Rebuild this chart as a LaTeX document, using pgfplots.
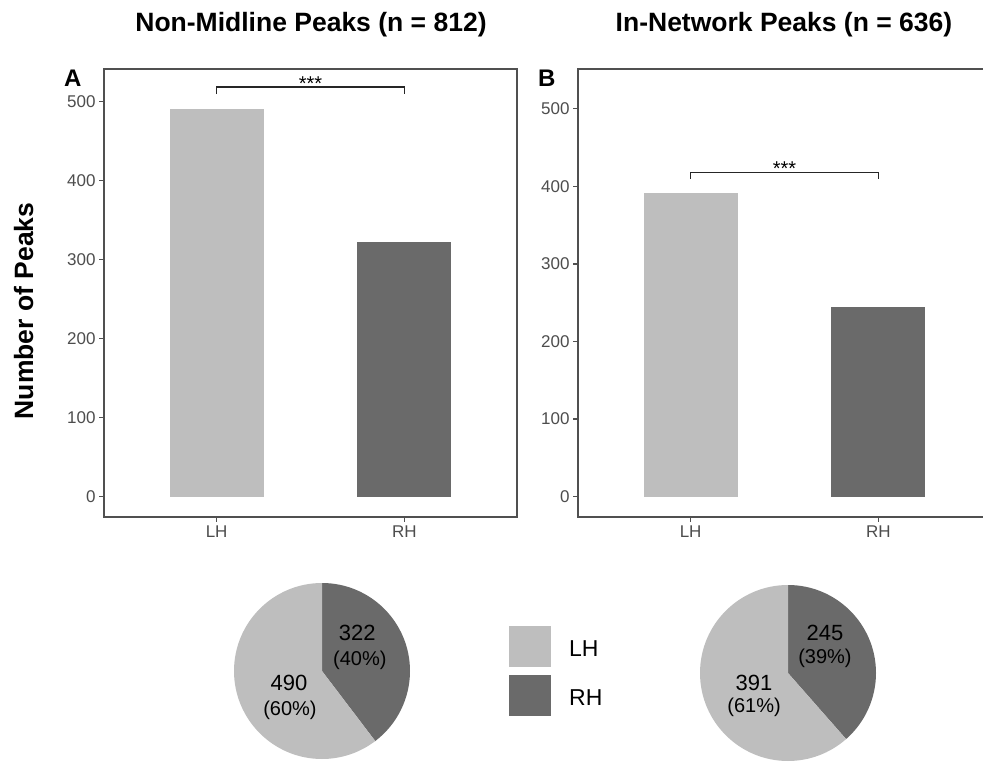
\documentclass[border=0pt]{standalone}
\usepackage{pgfplots}
\pgfplotsset{compat=1.18}
\usepackage{fontspec}
\setmainfont{Liberation Sans}
\definecolor{lhcol}{RGB}{190,190,190}
\definecolor{rhcol}{RGB}{106,106,106}
\definecolor{axcol}{RGB}{80,80,80}
\definecolor{tickcol}{RGB}{77,77,77}
\pgfplotsset{
 barpanel/.style={
  scale only axis, width=413pt, height=448pt, anchor=south west,
  xmin=0.4, xmax=2.6, xtick={1,2}, xticklabels={LH,RH},
  ytick={0,100,200,300,400,500},
  tick align=outside, major tick length=5pt,
  xtick pos=bottom, ytick pos=left,
  axis line style={draw=axcol, line width=1.2pt},
  tick style={draw=axcol, line width=1.2pt},
  tick label style={font=\fontsize{17}{19}\selectfont, text=tickcol},
  /pgf/number format/assume math mode=true,
  clip=false,
 },
 piepanel/.style={
  scale only axis, width=176pt, height=176pt, anchor=south west,
  xmin=-1, xmax=1, ymin=-1, ymax=1, hide axis, clip=false,
 },
}
\begin{document}
\begin{tikzpicture}[x=1pt,y=1pt]
\useasboundingbox (0,0) rectangle (983,761);
\clip (0,0) rectangle (983,761);

% Titles
\node[anchor=base, font=\fontsize{26.5}{30}\selectfont\bfseries] at (311,729) {Non-Midline Peaks (n = 812)};
\node[anchor=base, font=\fontsize{26.5}{30}\selectfont\bfseries] at (784,729) {In-Network Peaks (n = 636)};
% Panel letters
\node[anchor=base west, inner sep=0pt, font=\fontsize{24}{26}\selectfont\bfseries] at (64,674) {A};
\node[anchor=base west, inner sep=0pt, font=\fontsize{24}{26}\selectfont\bfseries] at (538,674) {B};
% Y label
\node[anchor=base, rotate=90, inner sep=0pt, font=\fontsize{26.5}{30}\selectfont\bfseries] at (33,450) {Number of Peaks};

% Panel A
\begin{axis}[barpanel, at={(104pt,244pt)}, ymin=-25.75, ymax=540.75]
\addplot[ybar, bar width=0.5, bar shift=0pt, fill=lhcol, draw=none] coordinates {(1,490)};
\addplot[ybar, bar width=0.5, bar shift=0pt, fill=rhcol, draw=none] coordinates {(2,322)};
\addplot[black!85, line width=1.7pt] coordinates {(1,509) (1,518) (2,518) (2,509)};
\node[anchor=base, inner sep=0pt, font=\fontsize{20}{22}\selectfont] at (axis cs:1.5,514) {***};
\end{axis}

% Panel B
\begin{axis}[barpanel, at={(578pt,244pt)}, ymin=-26.25, ymax=551.25]
\addplot[ybar, bar width=0.5, bar shift=0pt, fill=lhcol, draw=none] coordinates {(1,391)};
\addplot[ybar, bar width=0.5, bar shift=0pt, fill=rhcol, draw=none] coordinates {(2,245)};
\addplot[black!85, line width=1.7pt] coordinates {(1,410) (1,418) (2,418) (2,410)};
\node[anchor=base, inner sep=0pt, font=\fontsize{20}{22}\selectfont] at (axis cs:1.5,414) {***};
\end{axis}

% Pie A
\begin{axis}[piepanel, at={(234pt,2pt)}]
\fill[rhcol] (axis cs:0,0) -- (axis cs:0,1) arc[start angle=90, end angle={90-322/812*360}, radius=88pt] -- cycle;
\fill[lhcol] (axis cs:0,0) -- (axis cs:0,1) arc[start angle=90, end angle={90+490/812*360}, radius=88pt] -- cycle;
\node[font=\fontsize{22}{24}\selectfont, inner sep=0pt] at (axis cs:0.40,0.43) {322};
\node[font=\fontsize{20}{22}\selectfont, inner sep=0pt] at (axis cs:0.43,0.12) {(40\%)};
\node[font=\fontsize{22}{24}\selectfont, inner sep=0pt] at (axis cs:-0.375,-0.136) {490};
\node[font=\fontsize{20}{22}\selectfont, inner sep=0pt] at (axis cs:-0.364,-0.45) {(60\%)};
\end{axis}

% Pie B
\begin{axis}[piepanel, at={(700pt,0pt)}]
\fill[rhcol] (axis cs:0,0) -- (axis cs:0,1) arc[start angle=90, end angle={90-245/636*360}, radius=88pt] -- cycle;
\fill[lhcol] (axis cs:0,0) -- (axis cs:0,1) arc[start angle=90, end angle={90+391/636*360}, radius=88pt] -- cycle;
\node[font=\fontsize{22}{24}\selectfont, inner sep=0pt] at (axis cs:0.42,0.455) {245};
\node[font=\fontsize{20}{22}\selectfont, inner sep=0pt] at (axis cs:0.42,0.17) {(39\%)};
\node[font=\fontsize{22}{24}\selectfont, inner sep=0pt] at (axis cs:-0.386,-0.114) {391};
\node[font=\fontsize{20}{22}\selectfont, inner sep=0pt] at (axis cs:-0.386,-0.39) {(61\%)};
\end{axis}

% Legend
\fill[lhcol] (509,94) rectangle (551,135);
\fill[rhcol] (509,45) rectangle (551,86);
\node[anchor=base west, inner sep=0pt, font=\fontsize{23}{25}\selectfont] at (569,105) {LH};
\node[anchor=base west, inner sep=0pt, font=\fontsize{23}{25}\selectfont] at (569,56) {RH};
\end{tikzpicture}
\end{document}
